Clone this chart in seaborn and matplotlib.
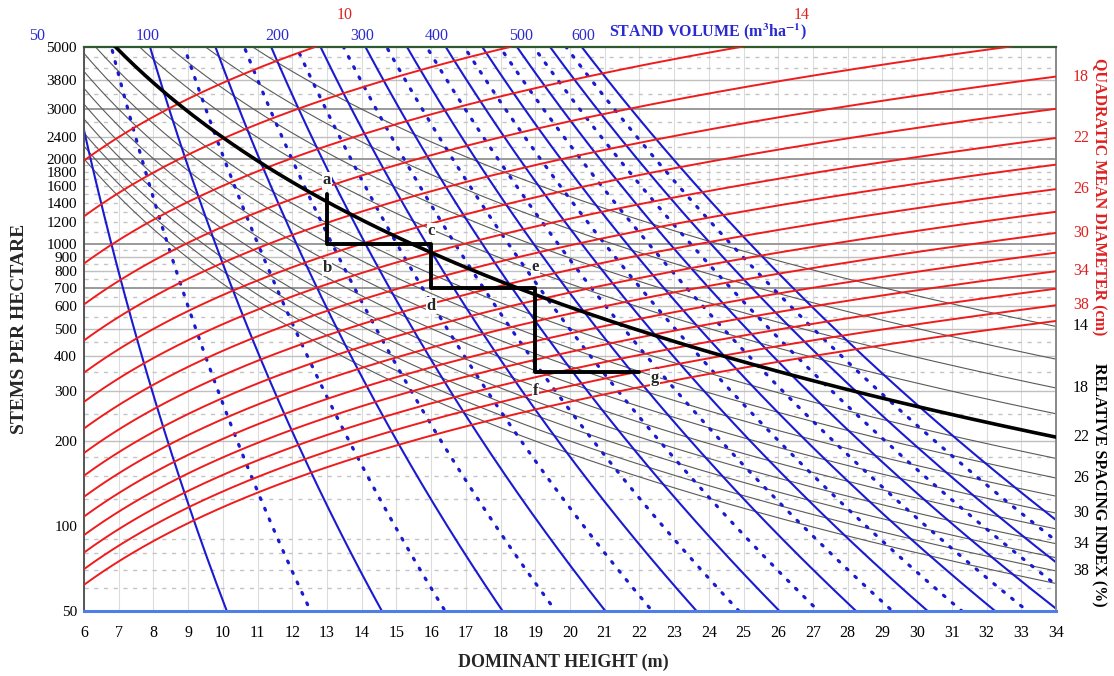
import numpy as np
import pandas as pd
import matplotlib
matplotlib.use("Agg")
import matplotlib.pyplot as plt
import seaborn as sns

# ---------------- data ----------------
# isoline levels
dq_levels = [10, 12, 14, 16, 18, 20, 22, 24, 26, 28, 30, 32, 34, 36, 38, 40]      # cm
volume_levels = [50, 75, 100, 125, 150, 175, 200, 225, 250, 275, 300, 325, 350, 375,
                 400, 425, 450, 475, 500, 525, 550, 575, 600]                     # m3/ha
volume_solid = [50, 100, 150, 200, 250, 300, 350, 400, 450, 500, 550, 600]
rs_levels = [14, 16, 18, 20, 22, 24, 26, 28, 30, 32, 34, 36, 38, 40]                # %
max_density_rs = 22

# fitted diagram model coefficients
DQ_A, DQ_B, DQ_C = 85.43, -0.40, 0.497      # Dq = A * N^B * H^C
V_K, V_P, V_Q = 0.2327, 0.252, 1.895        # V  = K * N^P * H^Q
RS_K = 10746.0                               # RS = K / (sqrt(N) * H)

# thinning schedule
path_H = [13, 13, 16, 16, 19, 19, 22]
path_N = [1500, 1000, 1000, 700, 700, 350, 350]
path_labels = ["a", "b", "c", "d", "e", "f", "g"]

# axis ticks / labels
x_ticks = list(range(6, 35))
y_ticks = [50, 100, 200, 300, 400, 500, 600, 700, 800, 900, 1000, 1200, 1400,
           1600, 1800, 2000, 2400, 3000, 3800, 5000]
grid_solid_dark = [700, 1000, 2000, 3000]
grid_solid_light = [200, 300, 400, 500, 600, 800, 900, 2400, 3800]
grid_dashed = [60, 70, 80, 90, 125, 150, 175, 250, 350, 450, 550, 650, 750, 850, 950,
               1100, 1200, 1300, 1400, 1500, 1600, 1700, 1800, 1900, 2200, 2700, 3400,
               4200, 4600]
vol_top_labels = [50, 100, 200, 300, 400, 500, 600]
vol_top_label_H = [4.65, 7.82, 11.56, 14.01, 16.17, 18.59, 20.38]
dq_top_labels = [10, 14]
dq_top_label_H = [13.52, 26.66]
dq_right_labels = [18, 22, 26, 30, 34, 38]
rs_right_labels = [14, 18, 22, 26, 30, 34, 38]

# ---------------- build tables ----------------
H_grid = np.linspace(6, 34, 400)
N_grid = np.geomspace(20, 12000, 500)

dq_df = pd.concat([pd.DataFrame({"H": H_grid,
                                 "N": (d / (DQ_A * H_grid ** DQ_C)) ** (1 / DQ_B),
                                 "level": d}) for d in dq_levels])
vol_df = pd.concat([pd.DataFrame({"H": (v / (V_K * N_grid ** V_P)) ** (1 / V_Q),
                                  "N": N_grid, "level": v}) for v in volume_levels])
rs_df = pd.concat([pd.DataFrame({"H": H_grid,
                                 "N": (RS_K / (r * H_grid)) ** 2,
                                 "level": r}) for r in rs_levels])
md_df = pd.DataFrame({"H": H_grid, "N": (RS_K / (max_density_rs * H_grid)) ** 2})
path_df = pd.DataFrame({"H": path_H, "N": path_N})

# ---------------- figure ----------------
sns.set_theme(style="white")
plt.rcParams["font.family"] = ["Liberation Serif", "DejaVu Serif"]
plt.rcParams["mathtext.fontset"] = "stix"

W, Hpx = 1114, 676
fig = plt.figure(figsize=(W / 100, Hpx / 100), dpi=100)
L, R, T, B = 84, 1056, 46.9, 610.7
ax = fig.add_axes([L / W, 1 - B / Hpx, (R - L) / W, (B - T) / Hpx])
ax.set_yscale("log")
ax.set_xlim(6, 34)
ax.set_ylim(50, 5000)

# grid
for h in x_ticks:
    ax.axvline(h, color="#dcdcdc", lw=0.8, zorder=0)
for n in grid_dashed:
    ax.axhline(n, color="#c4c4c4", lw=1.0, ls=(0, (3, 4)), zorder=0)
for n in grid_solid_light:
    ax.axhline(n, color="#c0c0c0", lw=1.0, zorder=0.5)
for n in grid_solid_dark:
    ax.axhline(n, color="#9a9a9a", lw=1.4, zorder=0.5)

# relative spacing isolines (thin)
sns.lineplot(data=rs_df, x="H", y="N", units="level", estimator=None, sort=False,
             color="#5a5a5a", lw=0.8, legend=False, ax=ax, zorder=1)
# stand volume isolines
vs = vol_df[vol_df["level"].isin(volume_solid)]
vd = vol_df[~vol_df["level"].isin(volume_solid)]
sns.lineplot(data=vs, x="H", y="N", units="level", estimator=None, sort=False,
             color="#1a1ad0", lw=1.5, legend=False, ax=ax, zorder=2)
sns.lineplot(data=vd, x="H", y="N", units="level", estimator=None, sort=False,
             color="#1a1ad0", lw=2.3, ls=(0, (0.6, 3.0)), dash_capstyle="round",
             legend=False, ax=ax, zorder=2)
# quadratic mean diameter isolines
sns.lineplot(data=dq_df, x="H", y="N", units="level", estimator=None, sort=False,
             color="#ee1c1c", lw=1.4, legend=False, ax=ax, zorder=3)
# maximum density line
sns.lineplot(data=md_df, x="H", y="N", estimator=None, sort=False,
             color="black", lw=2.6, legend=False, ax=ax, zorder=4)
# thinning schedule
sns.lineplot(data=path_df, x="H", y="N", estimator=None, sort=False,
             color="black", lw=2.8, legend=False, ax=ax, zorder=5)
offsets = [(0, 10), (0, -17), (0, 9), (0, -13), (0, 15), (0, -13), (11, -4)]
for lab, h, n, off in zip(path_labels, path_H, path_N, offsets):
    ax.annotate(lab, (h, n), xytext=off, textcoords="offset points",
                ha="center", va="center", fontsize=12, fontweight="bold",
                bbox=dict(facecolor="white", edgecolor="none", pad=0.6), zorder=6)

ax.set_xlim(6, 34)
ax.set_ylim(50, 5000)
ax.set_xticks(x_ticks)
ax.set_xticklabels([str(t) for t in x_ticks])
ax.set_yticks(y_ticks)
ax.set_yticklabels([str(t) for t in y_ticks])
ax.minorticks_off()
ax.tick_params(axis="both", length=0, colors="black")
ax.tick_params(axis="x", pad=10, labelsize=11.5)
ax.tick_params(axis="y", pad=5, labelsize=11)
ax.set_xlabel("")
ax.set_ylabel("")

for s, c, w in [("top", "#2f5a2f", 1.6), ("bottom", "#4f7fe6", 2.2),
                ("left", "#555555", 1.4), ("right", "#888888", 1.4)]:
    ax.spines[s].set_color(c)
    ax.spines[s].set_linewidth(w)
    ax.spines[s].set_visible(True)

# top labels
xt = ax.get_xaxis_transform()
for v, h in zip(vol_top_labels, vol_top_label_H):
    ax.text(h, 1.019, str(v), transform=xt, ha="center", va="center",
            color="#2a2ad0", fontsize=11.5, clip_on=False)
for d, h in zip(dq_top_labels, dq_top_label_H):
    ax.text(h, 1.057, str(d), transform=xt, ha="center", va="center",
            color="#e02020", fontsize=11.5, clip_on=False)

# right labels at line ends
yt = ax.get_yaxis_transform()
for d in dq_right_labels:
    n = (d / (DQ_A * 34 ** DQ_C)) ** (1 / DQ_B)
    ax.text(1.0175, n, str(d), transform=yt, ha="left", va="center",
            color="#e02020", fontsize=11.5, clip_on=False)
for r in rs_right_labels:
    n = (RS_K / (r * 34)) ** 2
    ax.text(1.0175, n, str(r), transform=yt, ha="left", va="center",
            color="black", fontsize=11.5, clip_on=False)

# axis titles
fig.text(20 / W, 1 - 329 / Hpx, "STEMS PER HECTARE", rotation=90, ha="center",
         va="center", fontsize=14, fontweight="bold")
fig.text(563 / W, 1 - 662 / Hpx, "DOMINANT HEIGHT (m)", ha="center", va="center",
         fontsize=13, fontweight="bold")
fig.text(708 / W, 1 - 32 / Hpx, r"STAND VOLUME (m$^{\mathbf{3}}$ha$^{\mathbf{-1}}$)",
         ha="center", va="center", fontsize=11.5, fontweight="bold", color="#2a2ad0")
fig.text(1099 / W, 1 - 197 / Hpx, "QUADRATIC MEAN DIAMETER (cm)", rotation=-90,
         ha="center", va="center", fontsize=11.5, fontweight="bold", color="#e02020")
fig.text(1099 / W, 1 - 485 / Hpx, "RELATIVE SPACING INDEX (%)", rotation=-90,
         ha="center", va="center", fontsize=11.5, fontweight="bold", color="black")

fig.savefig("out.png", dpi=100)
